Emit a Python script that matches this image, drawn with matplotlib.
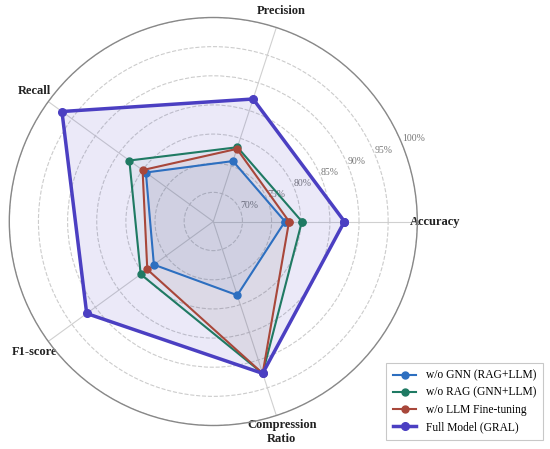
import numpy as np
import matplotlib
matplotlib.use("Agg")
import matplotlib.pyplot as plt

plt.rcParams['font.family'] = ['Liberation Serif', 'DejaVu Serif']

categories = ["Accuracy", "Precision", "Recall", "F1-score", "Compression\nRatio"]
series_names = ["w/o GNN (RAG+LLM)", "w/o RAG (GNN+LLM)", "w/o LLM Fine-tuning", "Full Model (GRAL)"]
wo_gnn = [77.3, 75.9, 79.3, 77.6, 78.3]
wo_rag = [80.2, 78.4, 82.8, 80.4, 92.4]
wo_llm_ft = [78.0, 78.1, 80.0, 79.0, 92.4]
full_model = [87.5, 87.1, 97.1, 91.85, 92.4]
r_ticks = [70, 75, 80, 85, 90, 95, 100]
r_tick_labels = ["70%", "75%", "80%", "85%", "90%", "95%", "100%"]

colors = ["#2d6fc0", "#1f7a63", "#a8473a", "#4b3fc2"]
lws = [1.5, 1.5, 1.5, 2.5]
msizes = [5.0, 5.0, 5.0, 5.5]
alphas = [0.07, 0.05, 0.06, 0.11]
values = [wo_gnn, wo_rag, wo_llm_ft, full_model]

fig = plt.figure(figsize=(5.5, 4.49), dpi=100)
ax = fig.add_axes([9.3 / 550, (449 - 425.5) / 449, 408 / 550, 408 / 449], projection='polar')

n = len(categories)
angles = np.linspace(0, 2 * np.pi, n, endpoint=False).tolist()
angles_closed = angles + angles[:1]

for name, vals, c, lw, ms, a in zip(series_names, values, colors, lws, msizes, alphas):
    v = list(vals) + [vals[0]]
    ax.plot(angles_closed, v, color=c, lw=lw, marker='o', markersize=ms, label=name, zorder=3)
    ax.fill(angles_closed, v, color=c, alpha=a, zorder=2)

ax.set_ylim(65, 100)
ax.set_yticks(r_ticks)
ax.set_yticklabels(r_tick_labels, fontsize=7, color='#777777')
ax.set_rlabel_position(22.5)
ax.set_xticks(angles)
ax.set_xticklabels(categories, fontsize=9, fontweight='bold', color='#222222')
ax.tick_params(axis='x', pad=2)
ax.yaxis.grid(True, linestyle='--', color='#cccccc', lw=0.8)
ax.xaxis.grid(True, linestyle='-', color='#d0d0d0', lw=0.8)
ax.spines['polar'].set_color('#888888')
ax.spines['polar'].set_linewidth(1.0)

leg = fig.legend(loc='lower right', bbox_to_anchor=(0.987, 0.02), fontsize=8.3,
                 frameon=True, fancybox=False, edgecolor='#bbbbbb', borderpad=0.6,
                 borderaxespad=0, handlelength=2.0, labelspacing=0.45)
leg.get_frame().set_linewidth(0.8)

fig.savefig("out.png", dpi=100)
